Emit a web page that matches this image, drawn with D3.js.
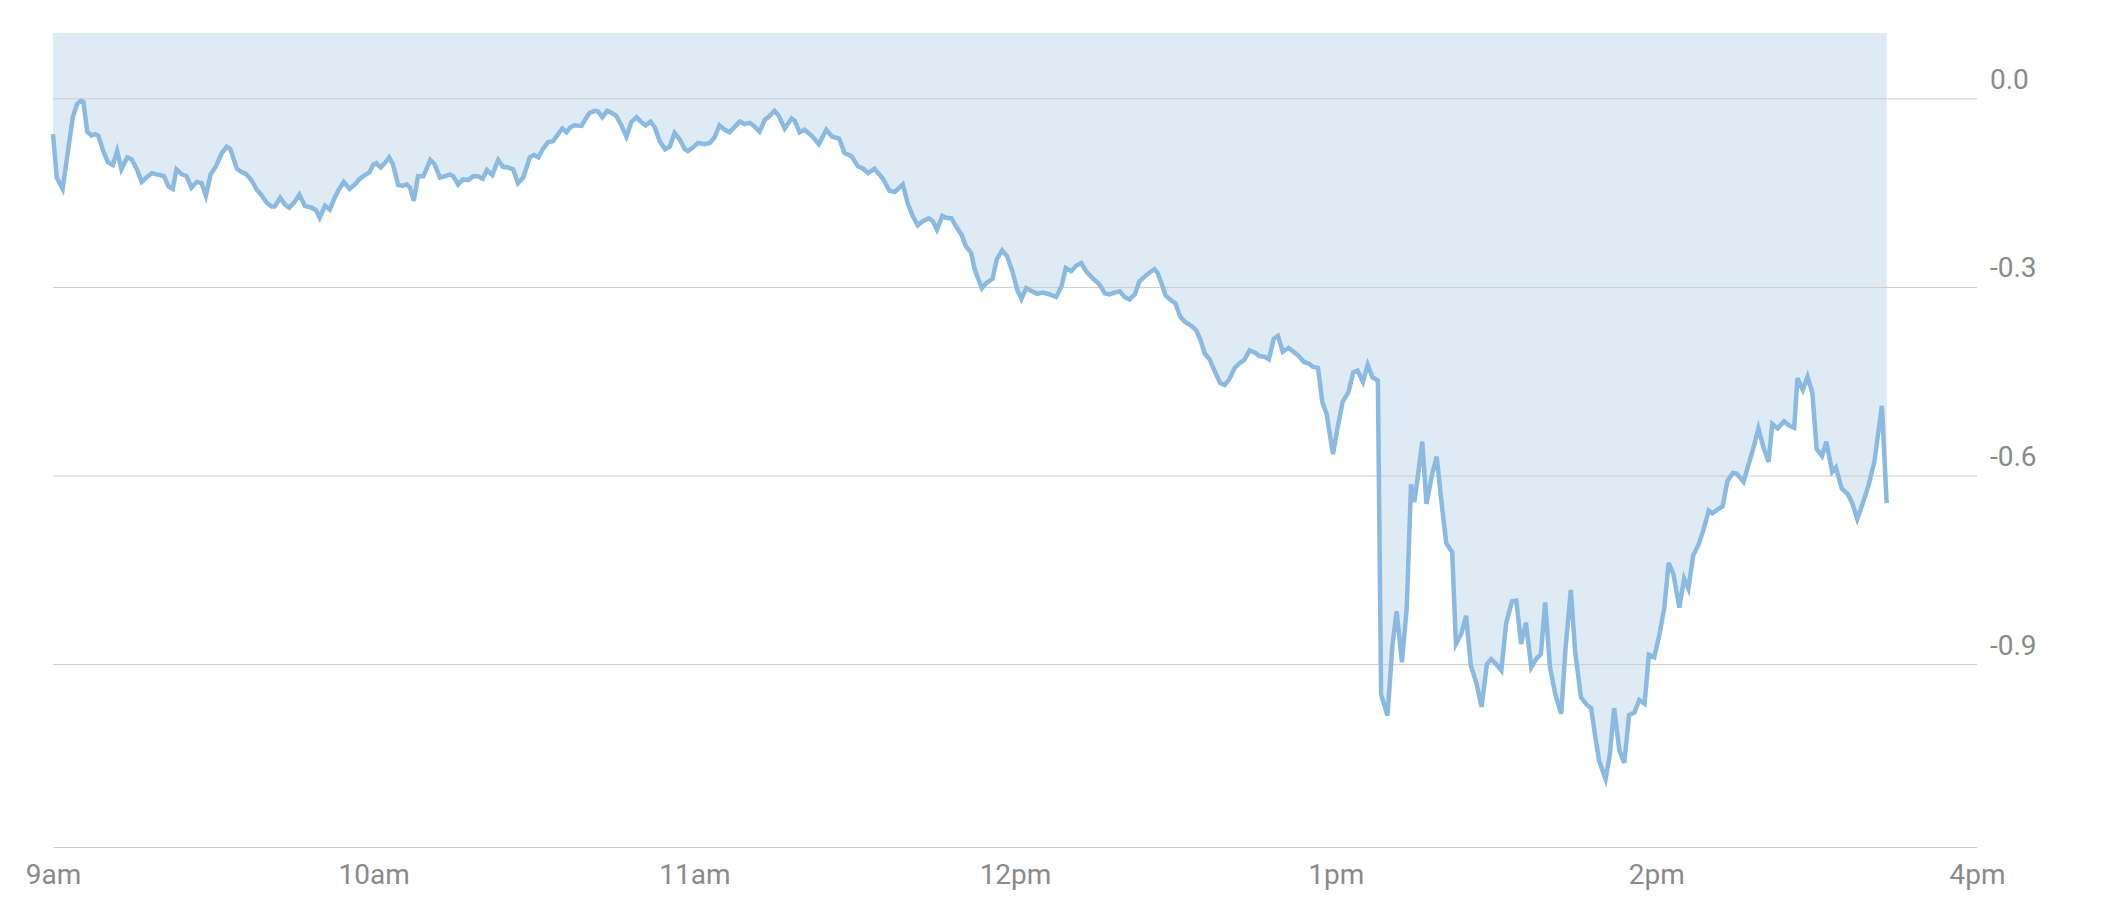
<!DOCTYPE html>
<html><head><meta charset="utf-8">
<script src="https://cdn.jsdelivr.net/npm/d3@7"></script>
<style>body{margin:0;background:#fff}svg{display:block}</style>
</head><body>
<svg id="chart" width="2122" height="902"></svg>
<script>
// minutes after 9:00
const minutes = [
0,0.7,1.8,2.9,3.7,4.5,5.2,5.7,6.4,7.2,
7.9,8.5,9.4,10.3,11.2,12.0,12.8,13.9,14.7,15.7,
16.6,17.5,18.5,19.3,20.0,20.8,21.6,22.4,23.1,24.1,
25.0,25.9,26.9,27.8,28.6,29.5,30.5,31.6,32.5,33.2,
34.4,35.2,36.2,37.2,38.1,39.0,40.0,40.9,41.5,42.5,
43.4,44.2,45.1,46.1,47.1,48.4,49.2,49.9,50.9,51.8,
52.7,53.5,54.4,55.5,56.5,57.4,58.4,59.2,59.9,60.5,
61.3,62.1,62.9,63.6,64.6,65.4,66.2,66.8,67.5,68.3,
69.3,70.6,71.4,72.4,73.3,74.3,74.9,75.8,76.7,77.7,
78.6,79.5,80.4,81.2,82.2,83.3,84.2,85.2,86.1,87.0,
88.0,89.2,90.0,90.8,91.7,92.6,93.6,94.5,95.3,96.1,
96.8,97.6,98.9,99.7,100.4,101.4,102.0,102.8,103.7,104.5,
105.4,106.4,107.3,108.2,109.2,110.1,110.9,111.8,112.6,113.5,
114.5,115.4,116.3,117.3,118.2,118.8,119.8,120.7,121.9,122.9,
123.8,124.7,125.7,126.6,127.6,128.5,129.4,130.4,131.3,132.2,
133.2,134.1,135.0,135.8,
136.9,138.2,138.8,139.7,140.6,141.9,143.3,144.7,145.8,147.1,
148.1,149.4,150.6,151.6,152.5,153.7,155.3,156.5,157.5,159.0,
160.0,160.9,161.8,162.8,163.9,164.6,165.4,166.4,167.1,168.1,
169.0,170.0,170.8,171.8,172.4,173.1,173.8,174.6,175.8,176.6,
177.6,178.5,179.5,180.4,181.2,182.1,183.2,184.1,185.2,186.5,
187.7,188.7,189.5,190.5,191.5,192.4,193.3,194.6,195.8,196.8,
197.7,198.6,199.6,200.5,201.4,202.4,203.3,204.2,205.2,
206.1,206.7,207.4,208.2,209.0,210.0,210.9,211.7,213.0,213.9,
214.7,215.5,216.4,217.3,218.4,219.2,220.1,221.1,221.9,222.9,
223.9,225.0,225.7,226.7,227.5,228.4,229.2,230.1,231.2,232.1,
233.1,234.0,235.0,235.7,236.7,237.5,238.3,239.5,240.4,241.3,
242.4,243.3,244.1,245.1,246.0,246.9,247.9,
248.5,249.7,250.6,251.4,252.4,253.3,254.1,254.7,255.2,256.2,
257.0,258.0,258.9,259.9,260.7,261.8,262.5,263.5,264.4,265.3,
266.3,267.3,268.3,269.1,270.0,271.0,271.9,273.0,273.8,274.7,
275.6,276.6,277.5,278.4,279.2,280.1,281.1,282.2,283.0,284.0,
284.8,285.9,287.0,287.8,288.6,289.3,290.5,291.3,292.1,293.1,
294.0,294.9,295.9,296.8,297.8,298.6,299.6,300.6,301.5,302.3,
303.2,304.3,305.2,306.0,306.9,307.9,308.8,309.8,310.5,311.5,
312.4,313.3,314.3,315.0,316.3,317.1,318.1,319.1,320.0,321.0,
321.7,322.7,323.9,324.9,325.8,
326.4,327.4,328.3,329.2,330.0,331.0,331.8,332.9,333.6,334.7,
335.8,336.7,337.6,338.6,339.7,340.8,342.2,343.1
];
const values = [
-0.057,-0.126,-0.144,-0.078,-0.030,-0.009,-0.004,-0.006,-0.053,-0.059,
-0.057,-0.060,-0.084,-0.102,-0.106,-0.084,-0.113,-0.094,-0.097,-0.113,
-0.133,-0.126,-0.119,-0.121,-0.122,-0.124,-0.140,-0.144,-0.113,-0.121,
-0.124,-0.142,-0.133,-0.135,-0.155,-0.121,-0.108,-0.087,-0.077,-0.081,
-0.112,-0.117,-0.121,-0.131,-0.145,-0.154,-0.166,-0.172,-0.172,-0.158,
-0.169,-0.174,-0.166,-0.153,-0.171,-0.174,-0.178,-0.190,-0.171,-0.177,
-0.158,-0.145,-0.133,-0.144,-0.137,-0.128,-0.122,-0.118,-0.106,-0.103,
-0.110,-0.103,-0.094,-0.105,-0.138,-0.139,-0.137,-0.142,-0.163,-0.124,
-0.124,-0.098,-0.105,-0.126,-0.124,-0.121,-0.124,-0.137,-0.129,-0.130,
-0.124,-0.124,-0.128,-0.114,-0.122,-0.098,-0.109,-0.110,-0.113,-0.135,
-0.126,-0.094,-0.090,-0.094,-0.080,-0.070,-0.068,-0.057,-0.048,-0.054,
-0.046,-0.043,-0.044,-0.032,-0.023,-0.020,-0.021,-0.030,-0.020,-0.023,
-0.028,-0.044,-0.061,-0.038,-0.030,-0.038,-0.043,-0.037,-0.046,-0.068,
-0.081,-0.077,-0.055,-0.066,-0.081,-0.084,-0.078,-0.071,-0.073,-0.071,
-0.062,-0.043,-0.050,-0.054,-0.045,-0.037,-0.041,-0.039,-0.045,-0.053,
-0.034,-0.028,-0.020,-0.028,
-0.048,-0.032,-0.036,-0.054,-0.050,-0.059,-0.073,-0.050,-0.061,-0.064,
-0.087,-0.092,-0.108,-0.112,-0.119,-0.112,-0.128,-0.147,-0.149,-0.137,
-0.169,-0.188,-0.202,-0.195,-0.191,-0.195,-0.209,-0.187,-0.190,-0.191,
-0.204,-0.217,-0.235,-0.246,-0.270,-0.287,-0.302,-0.294,-0.287,-0.256,
-0.242,-0.251,-0.275,-0.304,-0.319,-0.302,-0.307,-0.311,-0.309,-0.312,
-0.316,-0.299,-0.270,-0.275,-0.266,-0.262,-0.275,-0.287,-0.296,-0.310,
-0.312,-0.309,-0.307,-0.316,-0.320,-0.312,-0.291,-0.284,-0.277,
-0.272,-0.278,-0.294,-0.314,-0.320,-0.326,-0.347,-0.355,-0.362,-0.369,
-0.384,-0.406,-0.415,-0.433,-0.453,-0.456,-0.447,-0.429,-0.422,-0.416,
-0.401,-0.405,-0.410,-0.411,-0.415,-0.383,-0.378,-0.403,-0.397,-0.403,
-0.410,-0.419,-0.422,-0.427,-0.429,-0.483,-0.502,-0.566,-0.522,-0.483,
-0.467,-0.436,-0.433,-0.451,-0.424,-0.444,-0.449,
-0.948,-0.982,-0.872,-0.816,-0.897,-0.810,-0.614,-0.642,-0.613,-0.546,
-0.645,-0.600,-0.570,-0.650,-0.708,-0.722,-0.868,-0.852,-0.823,-0.903,
-0.929,-0.968,-0.900,-0.892,-0.900,-0.910,-0.835,-0.800,-0.799,-0.868,
-0.834,-0.905,-0.892,-0.884,-0.802,-0.905,-0.948,-0.979,-0.876,-0.782,
-0.879,-0.953,-0.965,-0.970,-1.017,-1.054,-1.083,-1.044,-0.970,-1.038,
-1.057,-0.981,-0.977,-0.957,-0.963,-0.885,-0.889,-0.852,-0.810,-0.739,
-0.757,-0.810,-0.764,-0.780,-0.727,-0.710,-0.687,-0.656,-0.660,-0.654,
-0.649,-0.609,-0.596,-0.597,-0.610,-0.587,-0.558,-0.525,-0.554,-0.578,
-0.518,-0.525,-0.514,-0.521,-0.524,
-0.445,-0.464,-0.443,-0.469,-0.558,-0.569,-0.546,-0.594,-0.587,-0.621,
-0.629,-0.645,-0.669,-0.645,-0.616,-0.578,-0.489,-0.644
];
const yTicks = [0, -0.3, -0.6, -0.9];
const yTickLabels = ["0.0", "-0.3", "-0.6", "-0.9"];
const xTicks = [0, 60, 120, 180, 240, 300, 360];
const xTickLabels = ["9am", "10am", "11am", "12pm", "1pm", "2pm", "4pm"];

(function () {
  const data = minutes.map((m, i) => ({m: m, v: values[i]}));
  const plotLeft = 53, plotRight = 1977, plotTop = 33, plotBottom = 847;
  const FONT = "Roboto, 'Noto Sans', sans-serif";
  const TEXT = "#8a8a8a", GRID = "#cccccc";

  const svg = d3.select("#chart");
  const x = d3.scaleLinear().domain([xTicks[0], xTicks[xTicks.length - 1]]).range([plotLeft, plotRight]);
  const ext = d3.extent(values);
  const pad = (ext[1] - ext[0]) * 0.1;
  const y = d3.scaleLinear().domain([ext[0] - pad, ext[1] + pad]).range([plotBottom, plotTop]);

  // shaded area above the line
  svg.append("path").datum(data)
    .attr("fill", "#deebf5")
    .attr("d", d3.area().x(d => x(d.m)).y0(plotTop).y1(d => y(d.v)));

  // y gridlines + labels
  const gy = svg.append("g").attr("transform", `translate(${plotRight},0)`)
    .call(d3.axisRight(y).tickValues(yTicks).tickSize(0).tickFormat((d, i) => yTickLabels[i]));
  gy.select(".domain").remove();
  gy.selectAll(".tick line").attr("x1", plotLeft - plotRight).attr("x2", 0).attr("stroke", GRID);
  gy.selectAll(".tick text").attr("x", 13).attr("y", -10).attr("dy", null)
    .attr("text-anchor", "start").style("font-family", FONT).style("font-size", "28px").attr("fill", TEXT);

  // x axis
  const gx = svg.append("g").attr("transform", `translate(0,${plotBottom})`)
    .call(d3.axisBottom(x).tickValues(xTicks).tickSize(0).tickFormat((d, i) => xTickLabels[i]));
  gx.select(".domain").attr("stroke", GRID);
  gx.selectAll(".tick text").attr("y", 37).attr("dy", null)
    .style("font-family", FONT).style("font-size", "28px").attr("fill", TEXT);

  // line
  svg.append("path").datum(data)
    .attr("fill", "none")
    .attr("stroke", "#8cb9e0")
    .attr("stroke-width", 4.5)
    .attr("d", d3.line().x(d => x(d.m)).y(d => y(d.v)));
})();
</script>
</body></html>
